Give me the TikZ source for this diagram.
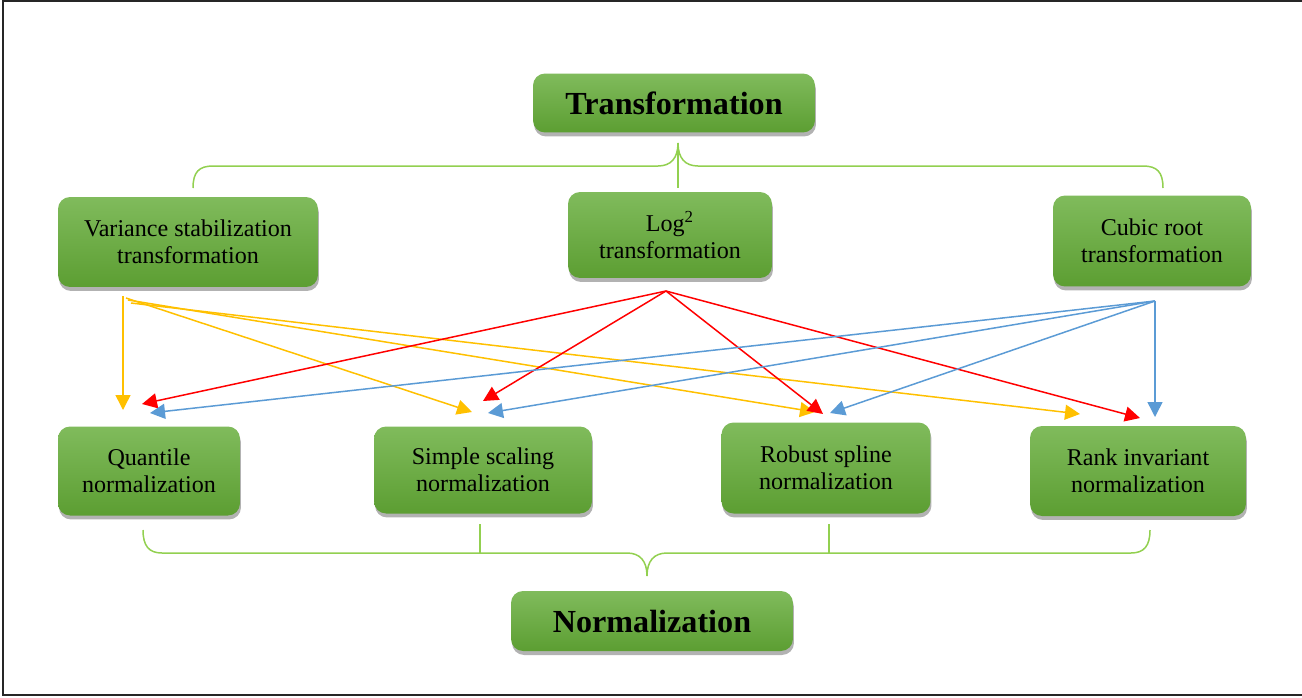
\documentclass[tikz,border=0pt]{standalone}
\usepackage{fontspec}
\setmainfont{Liberation Serif}
\usepackage{tikz}
\usetikzlibrary{arrows.meta}
\usetikzlibrary{shadows}

\definecolor{boxtop}{HTML}{80BB5C}
\definecolor{boxbot}{HTML}{5C9E32}
\definecolor{bracegreen}{HTML}{92D050}
\definecolor{tyellow}{HTML}{FFC000}
\definecolor{tred}{HTML}{FF0000}
\definecolor{tblue}{HTML}{5B9BD5}

\begin{document}
\begin{tikzpicture}[x=0.02cm, y=-0.02cm,
    gbox/.style = {rectangle, rounded corners=0.24cm, top color=boxtop, bottom color=boxbot,
                   align=center, inner sep=0pt, text=black,
                   font=\fontsize{13.7}{15.4}\selectfont,
                   drop shadow={shadow xshift=0.02cm, shadow yshift=-0.08cm, fill=black, opacity=0.3}},
    headbox/.style = {gbox, font=\fontsize{18.3}{21}\selectfont\bfseries},
    brace/.style = {draw=bracegreen, line width=0.03cm},
    link/.style = {line width=0.03cm, -{Triangle[length=0.3cm, width=0.3cm]}}]
\useasboundingbox (0,0) rectangle (1302,697);

% frame
\draw[line width=0.04cm, black!85] (1302,1) -- (3,1) -- (3,695) -- (1302,695);

% Headings
\node[headbox, minimum width=5.64cm, minimum height=1.18cm] (trans) at (674,103) {Transformation};
\node[headbox, minimum width=5.64cm, minimum height=1.2cm] (norm) at (652,621) {Normalization};

% Transformations
\node[gbox, minimum width=5.2cm, minimum height=1.8cm] (vst) at (188,242) {Variance stabilization\\transformation};
\node[gbox, minimum width=4.08cm, minimum height=1.72cm] (logt) at (670,235) {Log\textsuperscript{2}\\transformation};
\node[gbox, minimum width=3.96cm, minimum height=1.82cm] (cube) at (1152,241) {Cubic root\\transformation};

% Normalizations
\node[gbox, minimum width=3.64cm, minimum height=1.78cm] (quant) at (149,471) {Quantile\\normalization};
\node[gbox, minimum width=4.36cm, minimum height=1.74cm] (simple) at (483,470) {Simple scaling\\normalization};
\node[gbox, minimum width=4.18cm, minimum height=1.82cm] (spline) at (826,468) {Robust spline\\normalization};
\node[gbox, minimum width=4.32cm, minimum height=1.8cm] (rank) at (1138,471) {Rank invariant\\normalization};

% braces
\draw[brace] (193,188) .. controls (193,172) and (199,166) .. (213,166) -- (658,166)
    .. controls (671,166) and (678,158) .. (678,143) .. controls (678,158) and (685,166) .. (698,166)
    -- (1143,166) .. controls (1157,166) and (1163,172) .. (1163,188);
\draw[brace] (678,143) -- (678,188);

\draw[brace] (143,530) .. controls (143,546) and (149,553) .. (162,553) -- (627,553)
    .. controls (640,553) and (647,561) .. (647,576) .. controls (647,561) and (654,553) .. (667,553)
    -- (1131,553) .. controls (1144,553) and (1150,546) .. (1150,530);
\draw[brace] (480,524) -- (480,553);
\draw[brace] (829,524) -- (829,553);

% arrow ends
\coordinate (v0) at (123,296);
\coordinate (v1) at (126,298);
\coordinate (v2) at (128,300);
\coordinate (v3) at (131,303);
\coordinate (l0) at (666,291);
\coordinate (c0) at (1155,301);

\coordinate (qy) at (123,410);
\coordinate (qr) at (142,404);
\coordinate (qb) at (150,413);
\coordinate (sy) at (472,412);
\coordinate (sr) at (483,401);
\coordinate (sb) at (488,413);
\coordinate (ry) at (815,412);
\coordinate (rr) at (823,414);
\coordinate (rb) at (830,413);
\coordinate (ky) at (1080,414);
\coordinate (kr) at (1140,418);
\coordinate (kb) at (1155,417);

% yellow
\draw[link, tyellow] (v0) -- (qy);
\draw[link, tyellow] (v1) -- (sy);
\draw[link, tyellow] (v2) -- (ry);
\draw[link, tyellow] (v3) -- (ky);

% red
\draw[link, tred] (l0) -- (qr);
\draw[link, tred] (l0) -- (sr);
\draw[link, tred] (l0) -- (rr);
\draw[link, tred] (l0) -- (kr);

% blue
\draw[link, tblue] (c0) -- (qb);
\draw[link, tblue] (c0) -- (sb);
\draw[link, tblue] (c0) -- (rb);
\draw[link, tblue] (c0) -- (kb);

\end{tikzpicture}
\end{document}
